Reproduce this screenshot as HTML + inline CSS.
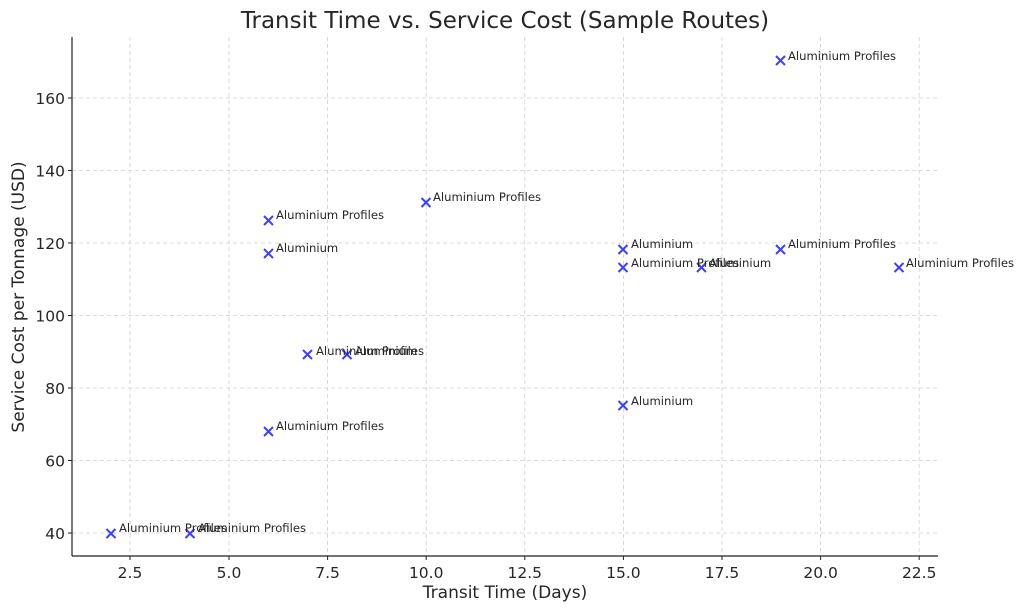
<!DOCTYPE html>
<html><head><meta charset="utf-8"><style>body{margin:0;background:#fff}svg{display:block}text{font-family:"DejaVu Sans","Liberation Sans",sans-serif;fill:#262626}</style></head><body>
<svg width="1024" height="612" viewBox="0 0 1024 612" xmlns="http://www.w3.org/2000/svg">
<rect width="1024" height="612" fill="#fff"/>
<g stroke="#cfcfcf" stroke-width="0.8" stroke-dasharray="4,3">
<line x1="130" y1="37" x2="130" y2="556"/><line x1="229" y1="37" x2="229" y2="556"/><line x1="327.6" y1="37" x2="327.6" y2="556"/><line x1="426.2" y1="37" x2="426.2" y2="556"/><line x1="524.8" y1="37" x2="524.8" y2="556"/><line x1="623.4" y1="37" x2="623.4" y2="556"/><line x1="722" y1="37" x2="722" y2="556"/><line x1="820.6" y1="37" x2="820.6" y2="556"/><line x1="919.2" y1="37" x2="919.2" y2="556"/>
<line x1="72" y1="533" x2="938" y2="533"/><line x1="72" y1="460.5" x2="938" y2="460.5"/><line x1="72" y1="388" x2="938" y2="388"/><line x1="72" y1="315.5" x2="938" y2="315.5"/><line x1="72" y1="243" x2="938" y2="243"/><line x1="72" y1="170.5" x2="938" y2="170.5"/><line x1="72" y1="98" x2="938" y2="98"/>
</g>
<g stroke="#222" stroke-width="1.2"><line x1="72" y1="37" x2="72" y2="556"/><line x1="72" y1="556" x2="938" y2="556"/></g>
<g stroke="#222" stroke-width="1">
<line x1="130" y1="556" x2="130" y2="560"/><line x1="229" y1="556" x2="229" y2="560"/><line x1="327.6" y1="556" x2="327.6" y2="560"/><line x1="426.2" y1="556" x2="426.2" y2="560"/><line x1="524.8" y1="556" x2="524.8" y2="560"/><line x1="623.4" y1="556" x2="623.4" y2="560"/><line x1="722" y1="556" x2="722" y2="560"/><line x1="820.6" y1="556" x2="820.6" y2="560"/><line x1="919.2" y1="556" x2="919.2" y2="560"/>
<line x1="68" y1="533" x2="72" y2="533"/><line x1="68" y1="460.5" x2="72" y2="460.5"/><line x1="68" y1="388" x2="72" y2="388"/><line x1="68" y1="315.5" x2="72" y2="315.5"/><line x1="68" y1="243" x2="72" y2="243"/><line x1="68" y1="170.5" x2="72" y2="170.5"/><line x1="68" y1="98" x2="72" y2="98"/>
</g>
<g font-size="15.5" text-anchor="middle">
<text x="130" y="578">2.5</text><text x="229" y="578">5.0</text><text x="327.6" y="578">7.5</text><text x="426.2" y="578">10.0</text><text x="524.8" y="578">12.5</text><text x="623.4" y="578">15.0</text><text x="722" y="578">17.5</text><text x="820.6" y="578">20.0</text><text x="919.2" y="578">22.5</text>
</g>
<g font-size="15.5" text-anchor="end">
<text x="65" y="539">40</text><text x="65" y="466.5">60</text><text x="65" y="394">80</text><text x="65" y="321.5">100</text><text x="65" y="249">120</text><text x="65" y="176.5">140</text><text x="65" y="104">160</text>
</g>
<text x="505" y="598" font-size="17" text-anchor="middle">Transit Time (Days)</text>
<text transform="translate(24,297) rotate(-90)" font-size="17" text-anchor="middle">Service Cost per Tonnage (USD)</text>
<text x="505" y="28" font-size="23" text-anchor="middle">Transit Time vs. Service Cost (Sample Routes)</text>
<g stroke="#4040f0" stroke-width="2">
<path d="M776,56l9,9M785,56l-9,9"/><path d="M421.5,198l9,9M430.5,198l-9,9"/><path d="M264,216l9,9M273,216l-9,9"/><path d="M264,249l9,9M273,249l-9,9"/><path d="M618.5,245l9,9M627.5,245l-9,9"/><path d="M776,245l9,9M785,245l-9,9"/><path d="M618.5,263l9,9M627.5,263l-9,9"/><path d="M697,263l9,9M706,263l-9,9"/><path d="M894.5,263l9,9M903.5,263l-9,9"/><path d="M303,350l9,9M312,350l-9,9"/><path d="M342.5,350l9,9M351.5,350l-9,9"/><path d="M618.5,401l9,9M627.5,401l-9,9"/><path d="M264,427l9,9M273,427l-9,9"/><path d="M106.5,529l9,9M115.5,529l-9,9"/><path d="M185.5,529l9,9M194.5,529l-9,9"/>
</g>
<g font-size="11.6">
<text x="788" y="60">Aluminium Profiles</text><text x="433" y="201">Aluminium Profiles</text><text x="276" y="219">Aluminium Profiles</text><text x="276" y="252">Aluminium</text><text x="631" y="248">Aluminium</text><text x="788" y="248">Aluminium Profiles</text><text x="631" y="267">Aluminium Profiles</text><text x="709" y="267">Aluminium</text><text x="906" y="267">Aluminium Profiles</text><text x="316" y="355">Aluminium Profiles</text><text x="355" y="355">Aluminium</text><text x="631" y="405">Aluminium</text><text x="276" y="430">Aluminium Profiles</text><text x="119" y="532">Aluminium Profiles</text><text x="198" y="532">Aluminium Profiles</text>
</g>
</svg>
</body></html>
